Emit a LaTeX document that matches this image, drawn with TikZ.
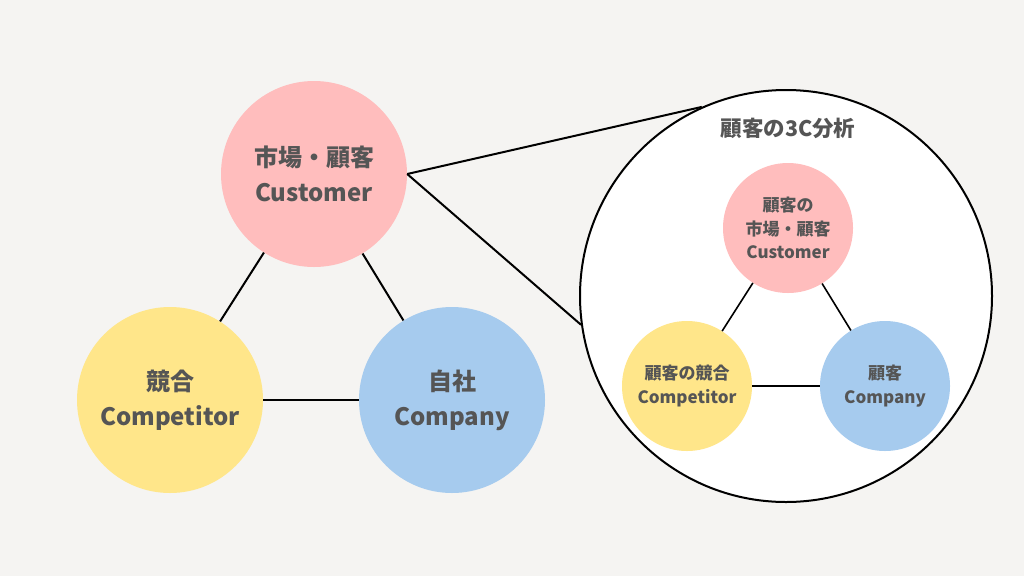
\documentclass[tikz,border=0pt]{standalone}
\usepackage{fontspec}
\setmainfont{Noto Sans CJK JP}
\begin{document}
\begin{tikzpicture}[x=1pt,y=-1pt,
  bigc/.style={circle,inner sep=0pt,minimum size=186pt,text=txt,align=center,
    font=\bfseries\fontsize{24}{35}\selectfont},
  smallc/.style={circle,inner sep=0pt,minimum size=130pt,text=txt,align=center,
    font=\bfseries\fontsize{17}{23.5}\selectfont},
  link/.style={line width=2pt,black},
  slink/.style={line width=1.6pt,black}]
\definecolor{bg}{HTML}{F5F4F2}
\definecolor{pinkc}{HTML}{FFBDBD}
\definecolor{yellowc}{HTML}{FFE68A}
\definecolor{bluec}{HTML}{A6CBEE}
\definecolor{txt}{HTML}{555555}
\fill[bg] (0,0) rectangle (1024,576);
\useasboundingbox (0,0) rectangle (1024,576);
% main
\node[bigc,fill=pinkc] (cust) at (314,174) {市場・顧客\\Customer};
\node[bigc,fill=yellowc] (comp) at (170,400) {競合\\Competitor};
\node[bigc,fill=bluec] (compy) at (452,400) {自社\\Company};
\draw[link] (cust) -- (comp);
\draw[link] (cust) -- (compy);
\draw[link] (comp) -- (compy);
% zoom circle
\node[circle,inner sep=0pt,minimum size=412pt,fill=white,draw=black,line width=2pt] (big) at (786,296) {};
\draw[link] (cust.east) -- (big.114);
\draw[link] (cust.east) -- (big.188);
\node[text=txt,font=\bfseries\fontsize{21.5}{24}\selectfont] (title) at (788,128) {顧客の3C分析};
\node[smallc,fill=pinkc] (icust) at (788,228) {顧客の\\市場・顧客\\Customer};
\node[smallc,fill=yellowc] (icomp) at (687,386) {顧客の競合\\Competitor};
\node[smallc,fill=bluec] (icompy) at (885,386) {顧客\\Company};
\draw[slink] (icust) -- (icomp);
\draw[slink] (icust) -- (icompy);
\draw[slink] (icomp) -- (icompy);
\end{tikzpicture}
\end{document}
